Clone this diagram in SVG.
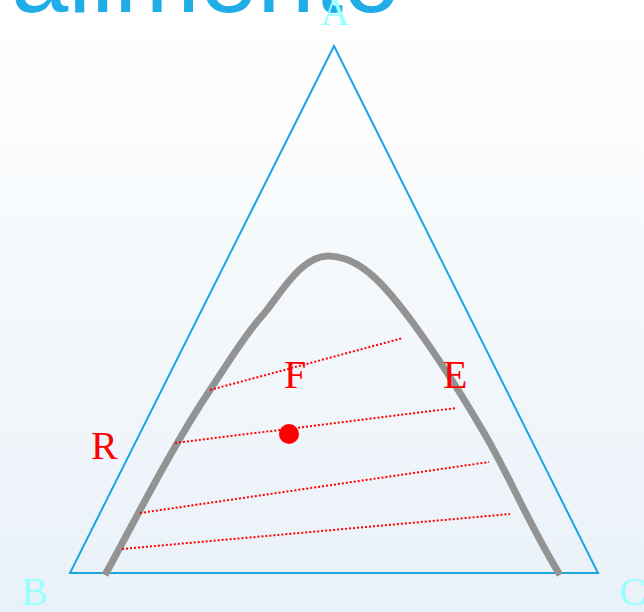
<svg xmlns="http://www.w3.org/2000/svg" width="644" height="612" viewBox="0 0 644 612">
  <defs>
    <linearGradient id="bg" x1="0" y1="0" x2="0" y2="1">
      <stop offset="0" stop-color="#ffffff"/>
      <stop offset="1" stop-color="#e9f1f8"/>
    </linearGradient>
    <style>
      .vtx { font-family: "Liberation Serif", serif; font-size: 40px; fill: #99ffff; }
      .lbl { font-family: "Liberation Serif", serif; font-size: 40px; fill: #ff0000; }
      .tie { stroke: #ff0000; stroke-width: 2; stroke-dasharray: 2 2; fill: none; }
    </style>
  </defs>
  <rect x="0" y="0" width="644" height="612" fill="url(#bg)"/>
  <text id="title" x="11" y="12" font-family="Liberation Sans, sans-serif" font-size="103" fill="#1eade6">alimento</text>
  <g id="triangle">
    <polygon points="334,46 70,573 598,573" fill="none" stroke="#1ba6e2" stroke-width="2"/>
  </g>
  <g id="binodal">
    <path d="M105,575 C130,530 170,450 210,390 C230,360 245,335 262,316 C278,298 300,256 328,256 C360,256 385,285 413,323 C440,360 465,400 487,438 C510,478 532,530 560,575" fill="none" stroke="#939393" stroke-width="7"/>
  </g>
  <g id="connectors">
    <line class="tie" x1="210" y1="390" x2="403" y2="338"/>
    <line class="tie" x1="175" y1="443" x2="456" y2="408"/>
    <line class="tie" x1="140" y1="513" x2="489" y2="462"/>
    <line class="tie" x1="122" y1="549" x2="510" y2="514"/>
  </g>
  <g id="point-M">
    <circle cx="289" cy="434" r="10" fill="#ff0000"/>
  </g>
  <g id="labels">
    <text class="vtx" x="335" y="25" text-anchor="middle">A</text>
    <text class="vtx" x="21" y="605">B</text>
    <text class="vtx" x="619" y="605">C</text>
    <text class="lbl" x="91" y="459">R</text>
    <text class="lbl" x="284" y="388">F</text>
    <text class="lbl" x="443" y="388">E</text>
  </g>
</svg>
